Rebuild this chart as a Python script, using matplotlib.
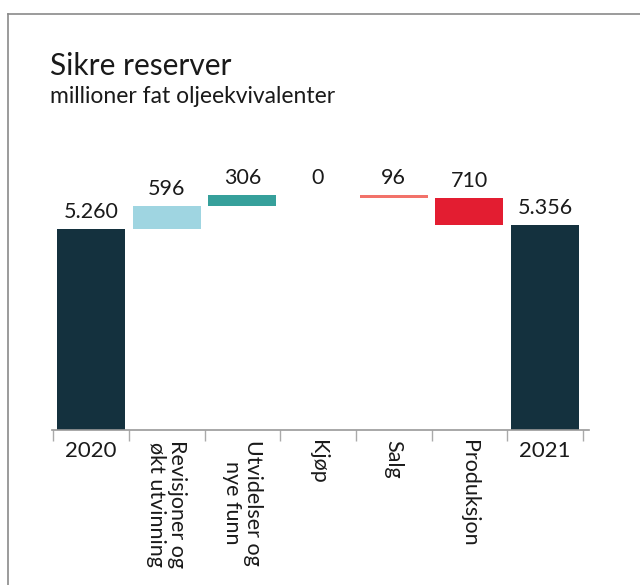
import matplotlib
matplotlib.use("Agg")
import matplotlib.pyplot as plt
from matplotlib.lines import Line2D

plt.rcParams['font.family'] = ['Lato', 'DejaVu Sans']

categories = ["2020", "Revisjoner og\nøkt utvinning", "Utvidelser og\nnye funn", "Kjøp",
              "Salg", "Produksjon", "2021"]
changes = [5260, 596, 306, 0, -96, -710, 5356]
is_total = [True, False, False, False, False, False, True]
colors = ["#14313e", "#9fd5e1", "#36a09b", "#36a09b", "#f2726a", "#e31d31", "#14313e"]
rotations = [0, -90, -90, -90, -90, -90, 0]


def fmt(v):
    return f"{abs(v):,}".replace(",", ".")


fig = plt.figure(figsize=(6.4, 5.85), dpi=100)
fig.patch.set_facecolor('white')

# frame lines like the screenshot border
fig.add_artist(Line2D([8 / 640, 1], [1 - 14 / 585, 1 - 14 / 585], color='#8a8a8a', lw=1.2))
fig.add_artist(Line2D([8 / 640, 8 / 640], [0, 1 - 14 / 585], color='#8a8a8a', lw=1.2))

fig.text(50 / 640, 1 - 75 / 585, "Sikre reserver", fontsize=21.5, color='#1a1a1a')
fig.text(50 / 640, 1 - 103 / 585, "millioner fat oljeekvivalenter", fontsize=16.5, color='#1a1a1a')

ax = fig.add_axes([52 / 640, 155 / 585, 537 / 640, 250 / 585])
ax.set_facecolor('white')

running = 0
for i, (c, tot) in enumerate(zip(changes, is_total)):
    if tot:
        bottom, height = 0, c
        running = c
        top = c
    else:
        bottom = running if c >= 0 else running + c
        height = abs(c)
        top = running + max(c, 0)
        running += c
    if height > 0:
        ax.bar(i, height, bottom=bottom, width=0.9, color=colors[i])
    ax.annotate(fmt(c), (i, top), xytext=(0, 5), textcoords='offset points',
                ha='center', va='bottom', fontsize=15.5, color='#1a1a1a')

ax.set_xlim(-0.515, 6.58)
ax.set_ylim(0, 6543)
ax.set_yticks([])
for s in ['top', 'right', 'left']:
    ax.spines[s].set_visible(False)
ax.spines['bottom'].set_color('#999999')
ax.spines['bottom'].set_linewidth(1.2)

ax.set_xticks(range(len(categories)))
ax.set_xticklabels([])
ax.tick_params(axis='x', which='major', length=0)
ax.set_xticks([-0.5 + k for k in range(len(categories) + 1)], minor=True)
ax.tick_params(axis='x', which='minor', length=8, color='#aaaaaa', width=1)

for i, lab in enumerate(categories):
    if rotations[i] == 0:
        ax.text(i, -0.045, lab, transform=ax.get_xaxis_transform(), ha='center', va='top',
                fontsize=16, color='#1a1a1a')
    else:
        ax.text(i, -0.04, lab, transform=ax.get_xaxis_transform(), ha='center', va='top',
                rotation=-90, rotation_mode='default', fontsize=15.5, color='#1a1a1a',
                linespacing=1.05)

fig.savefig("out.png", dpi=100, facecolor='white')
